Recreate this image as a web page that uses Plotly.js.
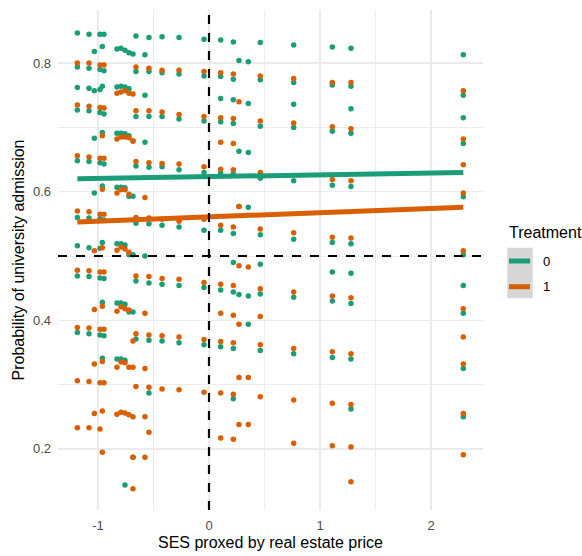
<!DOCTYPE html>
<html>
<head>
<meta charset="utf-8">
<script src="https://cdn.plot.ly/plotly-3.0.1.min.js"></script>
<style>html,body{margin:0;padding:0;background:#fff;}#chart{width:582px;height:556px;}</style>
</head>
<body>
<div id="chart"></div>
<script>
// SES value (x) of each column of points
const sesColumns = [-1.186, -1.081, -1.033, -0.982, -0.946, -0.961, -0.829, -0.793, -0.757, -0.721, -0.685,
  -0.658, -0.577, -0.541, -0.423, -0.270, -0.045, 0.105, 0.219, 0.270, 0.354, 0.462, 0.763, 1.111, 1.279, 2.291];

// Treatment 0: probabilities per column
const probTreat0 = [
  [0.847, 0.794, 0.762, 0.727, 0.648, 0.560, 0.516, 0.469, 0.381],
  [0.845, 0.792, 0.761, 0.726, 0.647, 0.559, 0.513, 0.468, 0.379],
  [0.818, 0.757, 0.683, 0.598],
  [0.845, 0.790, 0.759, 0.723, 0.645, 0.558, 0.512, 0.466, 0.377],
  [0.845, 0.788, 0.721, 0.643, 0.556, 0.465, 0.376],
  [0.826, 0.764, 0.692, 0.609, 0.521, 0.428, 0.341],
  [0.822, 0.763, 0.691, 0.607, 0.519, 0.427, 0.340],
  [0.823, 0.764, 0.691, 0.607, 0.519, 0.427, 0.340],
  [0.820, 0.763, 0.690, 0.606, 0.517, 0.425, 0.338, 0.144],
  [0.816, 0.760, 0.687, 0.593, 0.502, 0.413],
  [0.814, 0.679, 0.593, 0.502, 0.413, 0.187],
  [0.842, 0.787, 0.717, 0.640, 0.551, 0.461, 0.371],
  [0.813, 0.750, 0.677, 0.500],
  [0.840, 0.787, 0.717, 0.638, 0.550, 0.458, 0.369, 0.287],
  [0.841, 0.785, 0.717, 0.639, 0.548, 0.456, 0.368],
  [0.840, 0.783, 0.713, 0.634, 0.545, 0.454, 0.365],
  [0.837, 0.780, 0.710, 0.630, 0.540, 0.451, 0.362],
  [0.836, 0.779, 0.745, 0.709, 0.629, 0.540, 0.447, 0.359],
  [0.833, 0.775, 0.743, 0.706, 0.628, 0.535, 0.490, 0.444, 0.356, 0.278],
  [0.804, 0.663, 0.577, 0.440],
  [0.802, 0.737, 0.661, 0.576, 0.438, 0.394],
  [0.832, 0.774, 0.702, 0.621, 0.533, 0.487, 0.441, 0.353],
  [0.828, 0.770, 0.736, 0.700, 0.617, 0.526, 0.436, 0.348],
  [0.825, 0.766, 0.694, 0.610, 0.521, 0.475, 0.430, 0.342],
  [0.823, 0.764, 0.729, 0.691, 0.608, 0.519, 0.473, 0.426, 0.340, 0.262],
  [0.813, 0.750, 0.715, 0.675, 0.592, 0.502, 0.454, 0.411, 0.325, 0.250]
];

// Treatment 1: probabilities per column
const probTreat1 = [
  [0.800, 0.735, 0.656, 0.570, 0.478, 0.389, 0.306, 0.233],
  [0.800, 0.733, 0.654, 0.569, 0.477, 0.388, 0.305, 0.233],
  [0.508, 0.417, 0.332, 0.255],
  [0.797, 0.731, 0.652, 0.565, 0.475, 0.386, 0.303, 0.231],
  [0.797, 0.730, 0.652, 0.565, 0.475, 0.386, 0.303],
  [0.687, 0.604, 0.513, 0.422, 0.336, 0.259, 0.195],
  [0.753, 0.682, 0.598, 0.509, 0.414, 0.327, 0.254],
  [0.755, 0.685, 0.603, 0.514, 0.421, 0.335, 0.257],
  [0.757, 0.685, 0.603, 0.511, 0.418, 0.334, 0.256],
  [0.753, 0.684, 0.596, 0.506, 0.416, 0.327, 0.253],
  [0.752, 0.679, 0.368, 0.327, 0.250, 0.187, 0.138],
  [0.794, 0.726, 0.647, 0.560, 0.469, 0.379, 0.297],
  [0.591, 0.411, 0.325, 0.250, 0.187],
  [0.792, 0.726, 0.645, 0.559, 0.468, 0.377, 0.296, 0.226],
  [0.789, 0.724, 0.644, 0.557, 0.465, 0.376, 0.293],
  [0.789, 0.720, 0.643, 0.554, 0.464, 0.374, 0.292],
  [0.787, 0.717, 0.639, 0.557, 0.459, 0.370, 0.288],
  [0.785, 0.715, 0.677, 0.635, 0.548, 0.456, 0.411, 0.367, 0.287, 0.217],
  [0.783, 0.714, 0.675, 0.634, 0.545, 0.454, 0.408, 0.365, 0.285, 0.215],
  [0.740, 0.577, 0.485, 0.394, 0.311, 0.238],
  [0.483, 0.311, 0.238],
  [0.780, 0.710, 0.630, 0.542, 0.449, 0.406, 0.362, 0.281],
  [0.776, 0.707, 0.536, 0.444, 0.356, 0.276, 0.209],
  [0.770, 0.701, 0.619, 0.529, 0.438, 0.351, 0.271, 0.205],
  [0.770, 0.698, 0.617, 0.528, 0.435, 0.348, 0.269, 0.203, 0.149],
  [0.757, 0.682, 0.642, 0.598, 0.508, 0.418, 0.374, 0.332, 0.255, 0.191]
];

// Fitted lines (linear fit per treatment group)
const fitSes = [-1.186, 2.291];
const fitTreat0 = [0.620, 0.630];
const fitTreat1 = [0.553, 0.576];

// Reference lines
const refSes = 0;
const refProb = 0.5;

// Axis ticks
const xTickVals = [-1, 0, 1, 2];
const xTickText = ['-1', '0', '1', '2'];
const xMinorVals = [-0.5, 0.5, 1.5];
const yTickVals = [0.2, 0.4, 0.6, 0.8];
const yTickText = ['0.2', '0.4', '0.6', '0.8'];
const yMinorVals = [0.3, 0.5, 0.7];

const treatLabels = ['0', '1'];
const colors = ['#1B9E77', '#D95F02'];

function flatten(cols, probs) {
  const x = [], y = [];
  probs.forEach((list, i) => list.forEach(v => { x.push(cols[i]); y.push(v); }));
  return {x, y};
}
const p0 = flatten(sesColumns, probTreat0);
const p1 = flatten(sesColumns, probTreat1);

const FONT = 'Liberation Sans, Arial, Helvetica, sans-serif';

const traces = [
  {x: p0.x, y: p0.y, mode: 'markers', type: 'scatter', marker: {color: colors[0], size: 5.5}, showlegend: false, hoverinfo: 'x+y'},
  {x: p1.x, y: p1.y, mode: 'markers', type: 'scatter', marker: {color: colors[1], size: 5.5}, showlegend: false, hoverinfo: 'x+y'},
  {x: fitSes, y: fitTreat0, mode: 'lines', type: 'scatter', line: {color: colors[0], width: 5}, name: treatLabels[0], showlegend: false},
  {x: fitSes, y: fitTreat1, mode: 'lines', type: 'scatter', line: {color: colors[1], width: 5}, name: treatLabels[1], showlegend: false}
];

// Manual legend (ggplot-style, grey key background)
const legX0 = 1.0572, legX1 = 1.1169;
const legY = [0.498, 0.4466];
const shapes = [
  {type: 'line', xref: 'x', yref: 'paper', x0: refSes, x1: refSes, y0: 0, y1: 1, line: {color: '#000', width: 2.2, dash: '9px,9px'}, layer: 'above'},
  {type: 'line', xref: 'paper', yref: 'y', x0: 0, x1: 1, y0: refProb, y1: refProb, line: {color: '#000', width: 2.2, dash: '9px,9px'}, layer: 'above'},
  {type: 'rect', xref: 'paper', yref: 'paper', x0: legX0, x1: legX1, y0: 0.4234, y1: 0.5246, fillcolor: '#d6d6d6', line: {width: 0}, layer: 'above'}
];
treatLabels.forEach((lab, i) => {
  shapes.push({type: 'line', xref: 'paper', yref: 'paper', x0: 1.0612, x1: 1.1106, y0: legY[i], y1: legY[i], line: {color: colors[i], width: 5}, layer: 'above'});
});
const annotations = [
  {xref: 'paper', yref: 'paper', x: 1.0565, y: 0.554, xanchor: 'left', yanchor: 'middle', text: 'Treatment', showarrow: false, font: {family: FONT, size: 16, color: '#000'}}
];
treatLabels.forEach((lab, i) => {
  annotations.push({xref: 'paper', yref: 'paper', x: 1.1365, y: legY[i], xanchor: 'left', yanchor: 'middle', text: lab, showarrow: false, font: {family: FONT, size: 13, color: '#000'}});
});

const layout = {
  width: 582, height: 556,
  margin: {l: 58, r: 99, t: 10, b: 46, pad: 0},
  paper_bgcolor: '#fff', plot_bgcolor: '#fff',
  font: {family: FONT, size: 13, color: '#4d4d4d'},
  showlegend: false,
  xaxis: {
    range: [-1.3604, 2.4685], tickmode: 'array', tickvals: xTickVals, ticktext: xTickText,
    showgrid: true, gridcolor: '#ebebeb', gridwidth: 1.4, zeroline: false, showline: false, ticks: '',
    ticklabelstandoff: 6,
    tickfont: {family: FONT, size: 13, color: '#4d4d4d'},
    minor: {tickmode: 'array', tickvals: xMinorVals, showgrid: true, gridcolor: '#ebebeb', gridwidth: 0.9, ticks: ''},
    title: {text: 'SES proxed by real estate price', font: {family: FONT, size: 16, color: '#000'}, standoff: 4}
  },
  yaxis: {
    range: [0.105, 0.8826], tickmode: 'array', tickvals: yTickVals, ticktext: yTickText,
    showgrid: true, gridcolor: '#ebebeb', gridwidth: 1.4, zeroline: false, showline: false, ticks: '',
    ticklabelstandoff: 6,
    tickfont: {family: FONT, size: 13, color: '#4d4d4d'},
    minor: {tickmode: 'array', tickvals: yMinorVals, showgrid: true, gridcolor: '#ebebeb', gridwidth: 0.9, ticks: ''},
    title: {text: 'Probability of university admission', font: {family: FONT, size: 16, color: '#000'}, standoff: 4}
  },
  shapes: shapes,
  annotations: annotations
};

Plotly.newPlot('chart', traces, layout, {displayModeBar: false, staticPlot: true});
</script>
</body>
</html>
